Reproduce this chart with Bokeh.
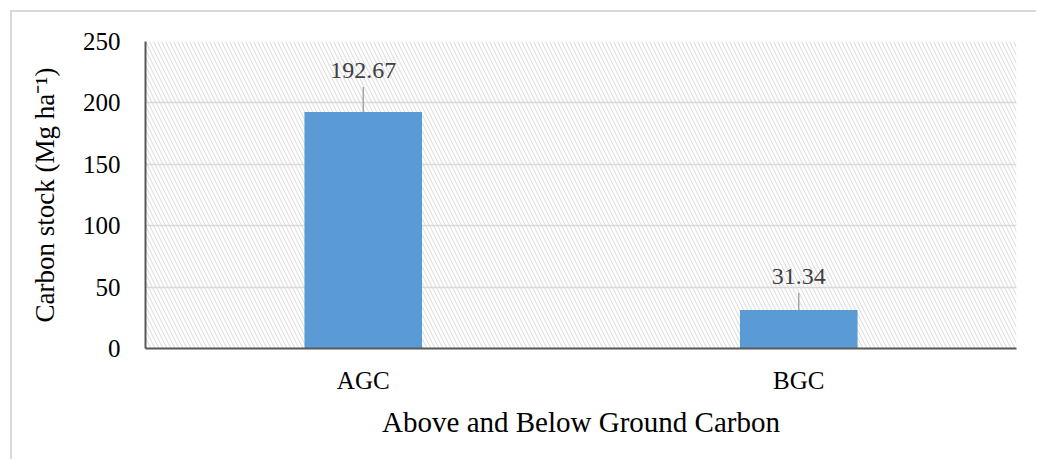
import math
from bokeh.plotting import figure
from bokeh.models import BoxAnnotation, ColumnDataSource, FactorRange
from bokeh.core.properties import value
from bokeh.embed import file_html
from bokeh.resources import INLINE

categories = ["AGC", "BGC"]
carbon_stock = [192.67, 31.34]
value_labels = ["192.67", "31.34"]
y_ticks = [0, 50, 100, 150, 200, 250]

# style: label offsets (pixels above bar top) and leader-line lengths
label_offsets = [-41, -34]
leader_lengths = [25, 17]

FONT = "Liberation Serif"

src = ColumnDataSource(dict(cat=categories, val=carbon_stock, lab=value_labels,
                            off=label_offsets, lead=leader_lengths))

p = figure(x_range=FactorRange(*categories, range_padding=0), y_range=(0, 250),
           width=1026, height=449, output_backend="svg", toolbar_location=None,
           min_border_left=133, min_border_right=22, min_border_top=29, min_border_bottom=113)
p.styles = {"margin-left": "10px", "margin-top": "10px",
            "border-left": "2px solid #D9D9D9", "border-top": "2px solid #D9D9D9"}
p.outline_line_color = None
p.background_fill_color = "white"

# hatched plot area
p.add_layout(BoxAnnotation(fill_alpha=0, line_color=None, hatch_pattern="\\",
                           hatch_color="#E0E0E0", hatch_scale=8, hatch_weight=1.2,
                           level="image"))

p.vbar(x="cat", top="val", width=0.27, source=src, fill_color="#5B9BD5", line_color=None)

p.ray(x="cat", y="val", length="lead", length_units="screen", angle=math.pi / 2,
      line_color="#A6A6A6", line_width=1.5, source=src)
p.text(x="cat", y="val", text="lab", y_offset="off", source=src,
       text_align="center", text_baseline="alphabetic", text_font=value(FONT),
       text_font_size="24px", text_color="#404040")

p.xgrid.grid_line_color = None
p.ygrid.grid_line_color = "#D9D9D9"
p.ygrid.grid_line_width = 1.5
p.yaxis.ticker = y_ticks

for ax in (p.xaxis, p.yaxis):
    ax.major_tick_line_color = None
    ax.minor_tick_line_color = None
    ax.axis_line_color = "#595959"
    ax.axis_line_width = 2
    ax.major_label_text_font = FONT
    ax.major_label_text_color = "black"
    ax.major_label_text_font_size = "25px"
    ax.axis_label_text_font = FONT
    ax.axis_label_text_font_style = "normal"
    ax.axis_label_text_color = "black"

p.yaxis.axis_label = "Carbon stock (Mg ha\u207b\u00b9)"
p.yaxis.axis_label_text_font_size = "27px"
p.yaxis.major_label_standoff = 19
p.yaxis.axis_label_standoff = 20

p.xaxis.axis_label = "Above and Below Ground Carbon"
p.xaxis.axis_label_text_font_size = "29px"
p.xaxis.major_label_standoff = 12
p.xaxis.axis_label_standoff = 9

open("out.html", "w").write(file_html(p, INLINE))
